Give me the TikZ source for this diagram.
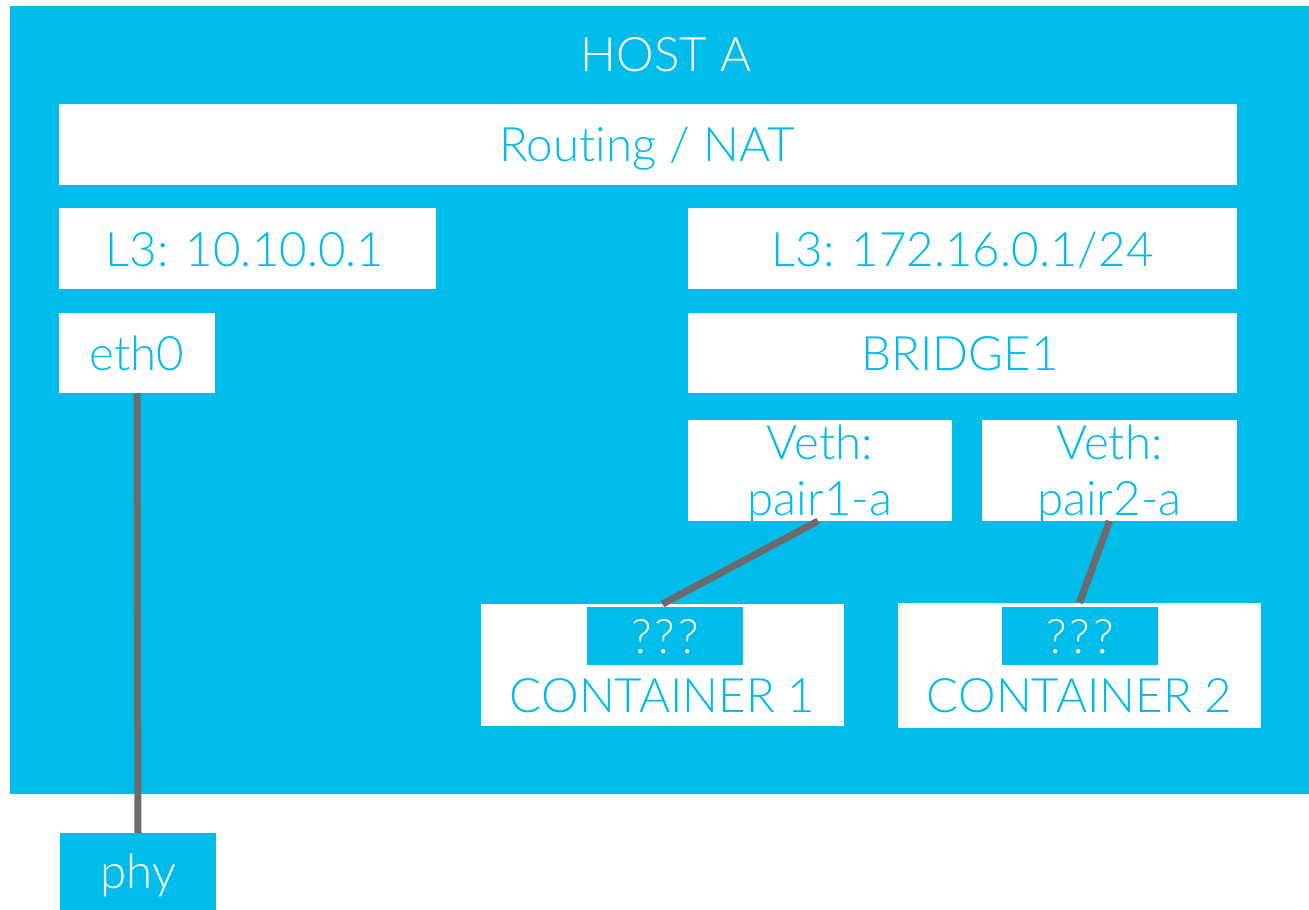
\documentclass[tikz,border=0pt]{standalone}
\usepackage{fontspec}
\setmainfont{Lato}[UprightFont=* Light, Ligatures=CommonOff]
\definecolor{hostblue}{RGB}{0,188,235}
\definecolor{wiregray}{RGB}{107,107,107}
\begin{document}
\begin{tikzpicture}[x=1pt,y=-1pt,
  hostbox/.style={fill=hostblue, inner sep=0pt, outer sep=0pt},
  wbox/.style={fill=white, inner sep=0pt, outer sep=0pt},
  bbox/.style={fill=hostblue, inner sep=0pt, outer sep=0pt},
  lbl/.style={anchor=base, inner sep=0pt, text=hostblue, font=\fontsize{47.5}{56}\selectfont},
  wlbl/.style={lbl, text=white},
  wire/.style={draw=wiregray, line width=7pt}]
\useasboundingbox (0,0) rectangle (1309,910);

% host frame
\node[hostbox, minimum width=1299, minimum height=788] (host) at (659.5,400) {};
\node[wlbl] (t-host) at (666,71) {HOST A};

% layers of the host
\node[wbox, minimum width=1178, minimum height=81] (route) at (648,144.5) {};
\node[lbl] (t-route) at (647,161) {Rout\kern0pt ing / NAT};

\node[wbox, minimum width=377, minimum height=81] (l3a) at (247.5,248.5) {};
\node[lbl] (t-l3a) at (245,266) {L3: 10.10.0.1};

\node[wbox, minimum width=156, minimum height=80] (eth0) at (137,353) {};
\node[lbl] (t-eth0) at (137,370) {eth0};

\node[wbox, minimum width=549, minimum height=81] (l3b) at (962.5,248.5) {};
\node[lbl] (t-l3b) at (962.5,266) {L3: 172.16.0.1/24};

\node[wbox, minimum width=549, minimum height=80] (bridge) at (962.5,353) {};
\node[lbl] (t-bridge) at (960,370) {BRIDGE1};

% veth ends on the bridge
\node[wbox, minimum width=264, minimum height=101] (veth1) at (820,470.5) {};
\node[lbl] (t-veth1a) at (820,459) {Veth:};
\node[lbl] (t-veth1b) at (820,515) {pair1-a};

\node[wbox, minimum width=255, minimum height=101] (veth2) at (1109.5,470.5) {};
\node[lbl] (t-veth2a) at (1109.5,459) {Veth:};
\node[lbl] (t-veth2b) at (1109.5,515) {pair2-a};

% containers
\node[wbox, minimum width=363, minimum height=122] (cont1) at (662.5,665) {};
\node[bbox, minimum width=156, minimum height=58] (q1) at (665,636) {};
\node[wlbl] (t-q1) at (665,653) {?\kern3pt?\kern3pt?};
\node[lbl] (t-cont1) at (662.5,712) {CONTAINER 1};

\node[wbox, minimum width=363, minimum height=125] (cont2) at (1079.5,665.5) {};
\node[bbox, minimum width=156, minimum height=58] (q2) at (1080,636) {};
\node[wlbl] (t-q2) at (1080,653) {?\kern3pt?\kern3pt?};
\node[lbl] (t-cont2) at (1079.5,712) {CONTAINER 2};

% physical interface
\node[bbox, minimum width=156, minimum height=77] (phy) at (138,871.5) {};
\node[wlbl] (t-phy) at (138,888) {phy};

% links
\draw[wire] (eth0.south) -- (phy.north);
\draw[wire] ([xshift=-2pt]veth1.south) -- (cont1.north);
\draw[wire] (veth2.south) -- (cont2.north);
\end{tikzpicture}
\end{document}
